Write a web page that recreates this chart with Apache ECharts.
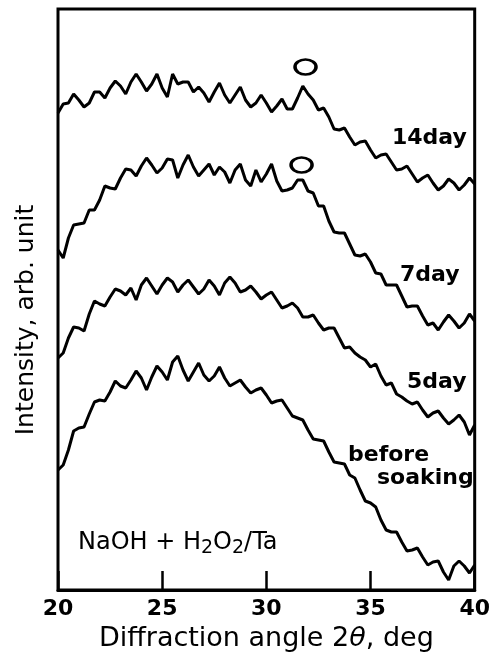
<!DOCTYPE html>
<html>
<head>
<meta charset="utf-8">
<script src="https://cdn.jsdelivr.net/npm/echarts@6/dist/echarts.min.js"></script>
<style>
  html, body { margin: 0; padding: 0; background: #fff; }
  #chart { width: 493px; height: 657px; }
</style>
</head>
<body>
<div id="chart"></div>
<script>
// diffraction angle 2theta, sampled every 0.25 deg from 20 to 40
var angles = [];
for (var i = 0; i <= 80; i++) angles.push(20 + i * 0.25);

// intensity, arb. unit (curves offset vertically as in the figure)
var day14 = [
  487,496,497,506,500,493,497,508,508,502,
  512,519,514,506,518,526,518,509,516,526,
  512,503,526,516,518,518,508,513,507,498,
  508,517,505,497,505,513,500,493,497,505,
  497,488,494,501,491,491,502,514,506,500,
  490,492,483,471,470,472,463,455,458,459,
  450,442,445,446,438,430,431,434,426,418,
  422,425,417,410,414,421,417,410,415,422,
  416
];
var day7 = [
  350,342,362,375,376,377,390,390,400,414,
  412,411,422,431,430,424,434,442,435,427,
  432,441,440,422,435,445,433,424,430,436,
  425,433,428,417,430,436,420,414,430,418,
  426,436,419,409,410,412,420,420,409,407,
  394,394,379,368,367,367,356,345,344,346,
  338,327,326,315,315,315,304,293,294,294,
  284,275,277,270,278,285,279,272,277,286,
  279
];
var day5 = [
  242,247,262,273,272,269,286,299,296,294,
  303,311,309,305,312,300,315,322,314,306,
  315,322,318,308,315,320,313,306,311,320,
  314,305,317,323,317,308,310,314,308,301,
  305,308,300,292,294,297,292,283,283,285,
  277,270,272,272,262,252,253,247,243,240,
  233,236,224,215,217,206,203,199,196,198,
  190,183,187,189,182,176,180,185,178,165,
  175
];
var beforeSoaking = [
  130,135,150,169,172,173,186,198,200,199,
  208,219,214,212,220,229,222,210,223,234,
  228,220,238,244,230,219,228,237,225,219,
  224,233,222,214,217,220,213,207,210,212,
  205,197,199,200,192,184,182,180,170,161,
  160,159,148,138,137,136,125,122,110,99,
  97,93,80,70,68,68,58,49,50,52,
  43,35,38,39,28,20,34,39,34,27,
  35
];

// "o" peak markers above the 14day and 7day curves
var peakAngles = [31.88, 31.69];
var peakLevels = [533, 435];

var xTicks = [20, 25, 30, 35, 40];

function pairs(ys) {
  return ys.map(function (y, k) { return [angles[k], y]; });
}

var font = "DejaVu Sans";
var myChart = echarts.init(document.getElementById("chart"));

var lineSeries = [day14, day7, day5, beforeSoaking].map(function (ys) {
  return {
    type: "line",
    data: pairs(ys),
    showSymbol: false,
    lineStyle: { color: "#000", width: 3 },
    z: 3
  };
});

var option = {
  backgroundColor: "#fff",
  animation: false,
  grid: {
    left: 58, right: 14, top: 9, bottom: 67,
    show: true,
    borderColor: "#000",
    borderWidth: 3
  },
  xAxis: {
    type: "value",
    min: xTicks[0],
    max: xTicks[xTicks.length - 1],
    interval: 5,
    splitLine: { show: false },
    axisLine: { show: true, lineStyle: { color: "#000", width: 3 } },
    axisTick: { show: true, inside: true, length: 19, lineStyle: { color: "#000", width: 2.5 } },
    axisLabel: {
      margin: 8,
      color: "#000",
      fontFamily: font,
      fontWeight: "bold",
      fontSize: 22
    },
    name: "Diffraction angle 2{it|θ}, deg",
    nameLocation: "middle",
    nameGap: 35,
    nameTextStyle: {
      color: "#000",
      fontFamily: font,
      fontSize: 27,
      rich: {
        it: { fontFamily: font, fontSize: 27, fontStyle: "italic", color: "#000" }
      }
    }
  },
  yAxis: {
    type: "value",
    min: 10,
    max: 591,
    show: true,
    splitLine: { show: false },
    axisLine: { show: false },
    axisTick: { show: false },
    axisLabel: { show: false }
  },
  series: lineSeries.concat([{
    type: "scatter",
    data: peakAngles.map(function (a, k) { return [a, peakLevels[k]]; }),
    symbol: "circle",
    symbolSize: [21, 15],
    itemStyle: { color: "#fff", borderColor: "#000", borderWidth: 3, opacity: 1 },
    z: 4
  }]),
  graphic: [
    {
      type: "text", x: 26, y: 320, rotation: Math.PI / 2,
      style: { text: "Intensity, arb. unit", font: "25px '" + font + "'", fill: "#000", align: "center", verticalAlign: "middle" }
    },
    { type: "text", x: 392, y: 138, style: { text: "14day", font: "bold 22px '" + font + "'", fill: "#000", verticalAlign: "middle" } },
    { type: "text", x: 400, y: 275, style: { text: "7day", font: "bold 22px '" + font + "'", fill: "#000", verticalAlign: "middle" } },
    { type: "text", x: 407, y: 382, style: { text: "5day", font: "bold 22px '" + font + "'", fill: "#000", verticalAlign: "middle" } },
    { type: "text", x: 348, y: 455, style: { text: "before", font: "bold 22px '" + font + "'", fill: "#000", verticalAlign: "middle" } },
    { type: "text", x: 377, y: 478, style: { text: "soaking", font: "bold 22px '" + font + "'", fill: "#000", verticalAlign: "middle" } },
    {
      type: "text", x: 78, y: 543,
      style: {
        text: "{n|NaOH + H}{s|2}{n|O}{s|2}{n|/Ta}",
        fill: "#000",
        verticalAlign: "middle",
        rich: {
          n: { fontFamily: font, fontSize: 24, lineHeight: 34, verticalAlign: "middle", fill: "#000" },
          s: { fontFamily: font, fontSize: 19, lineHeight: 34, verticalAlign: "bottom", padding: [0, 0, 2, 0], fill: "#000" }
        }
      }
    }
  ]
};

option && myChart.setOption(option);
</script>
</body>
</html>
